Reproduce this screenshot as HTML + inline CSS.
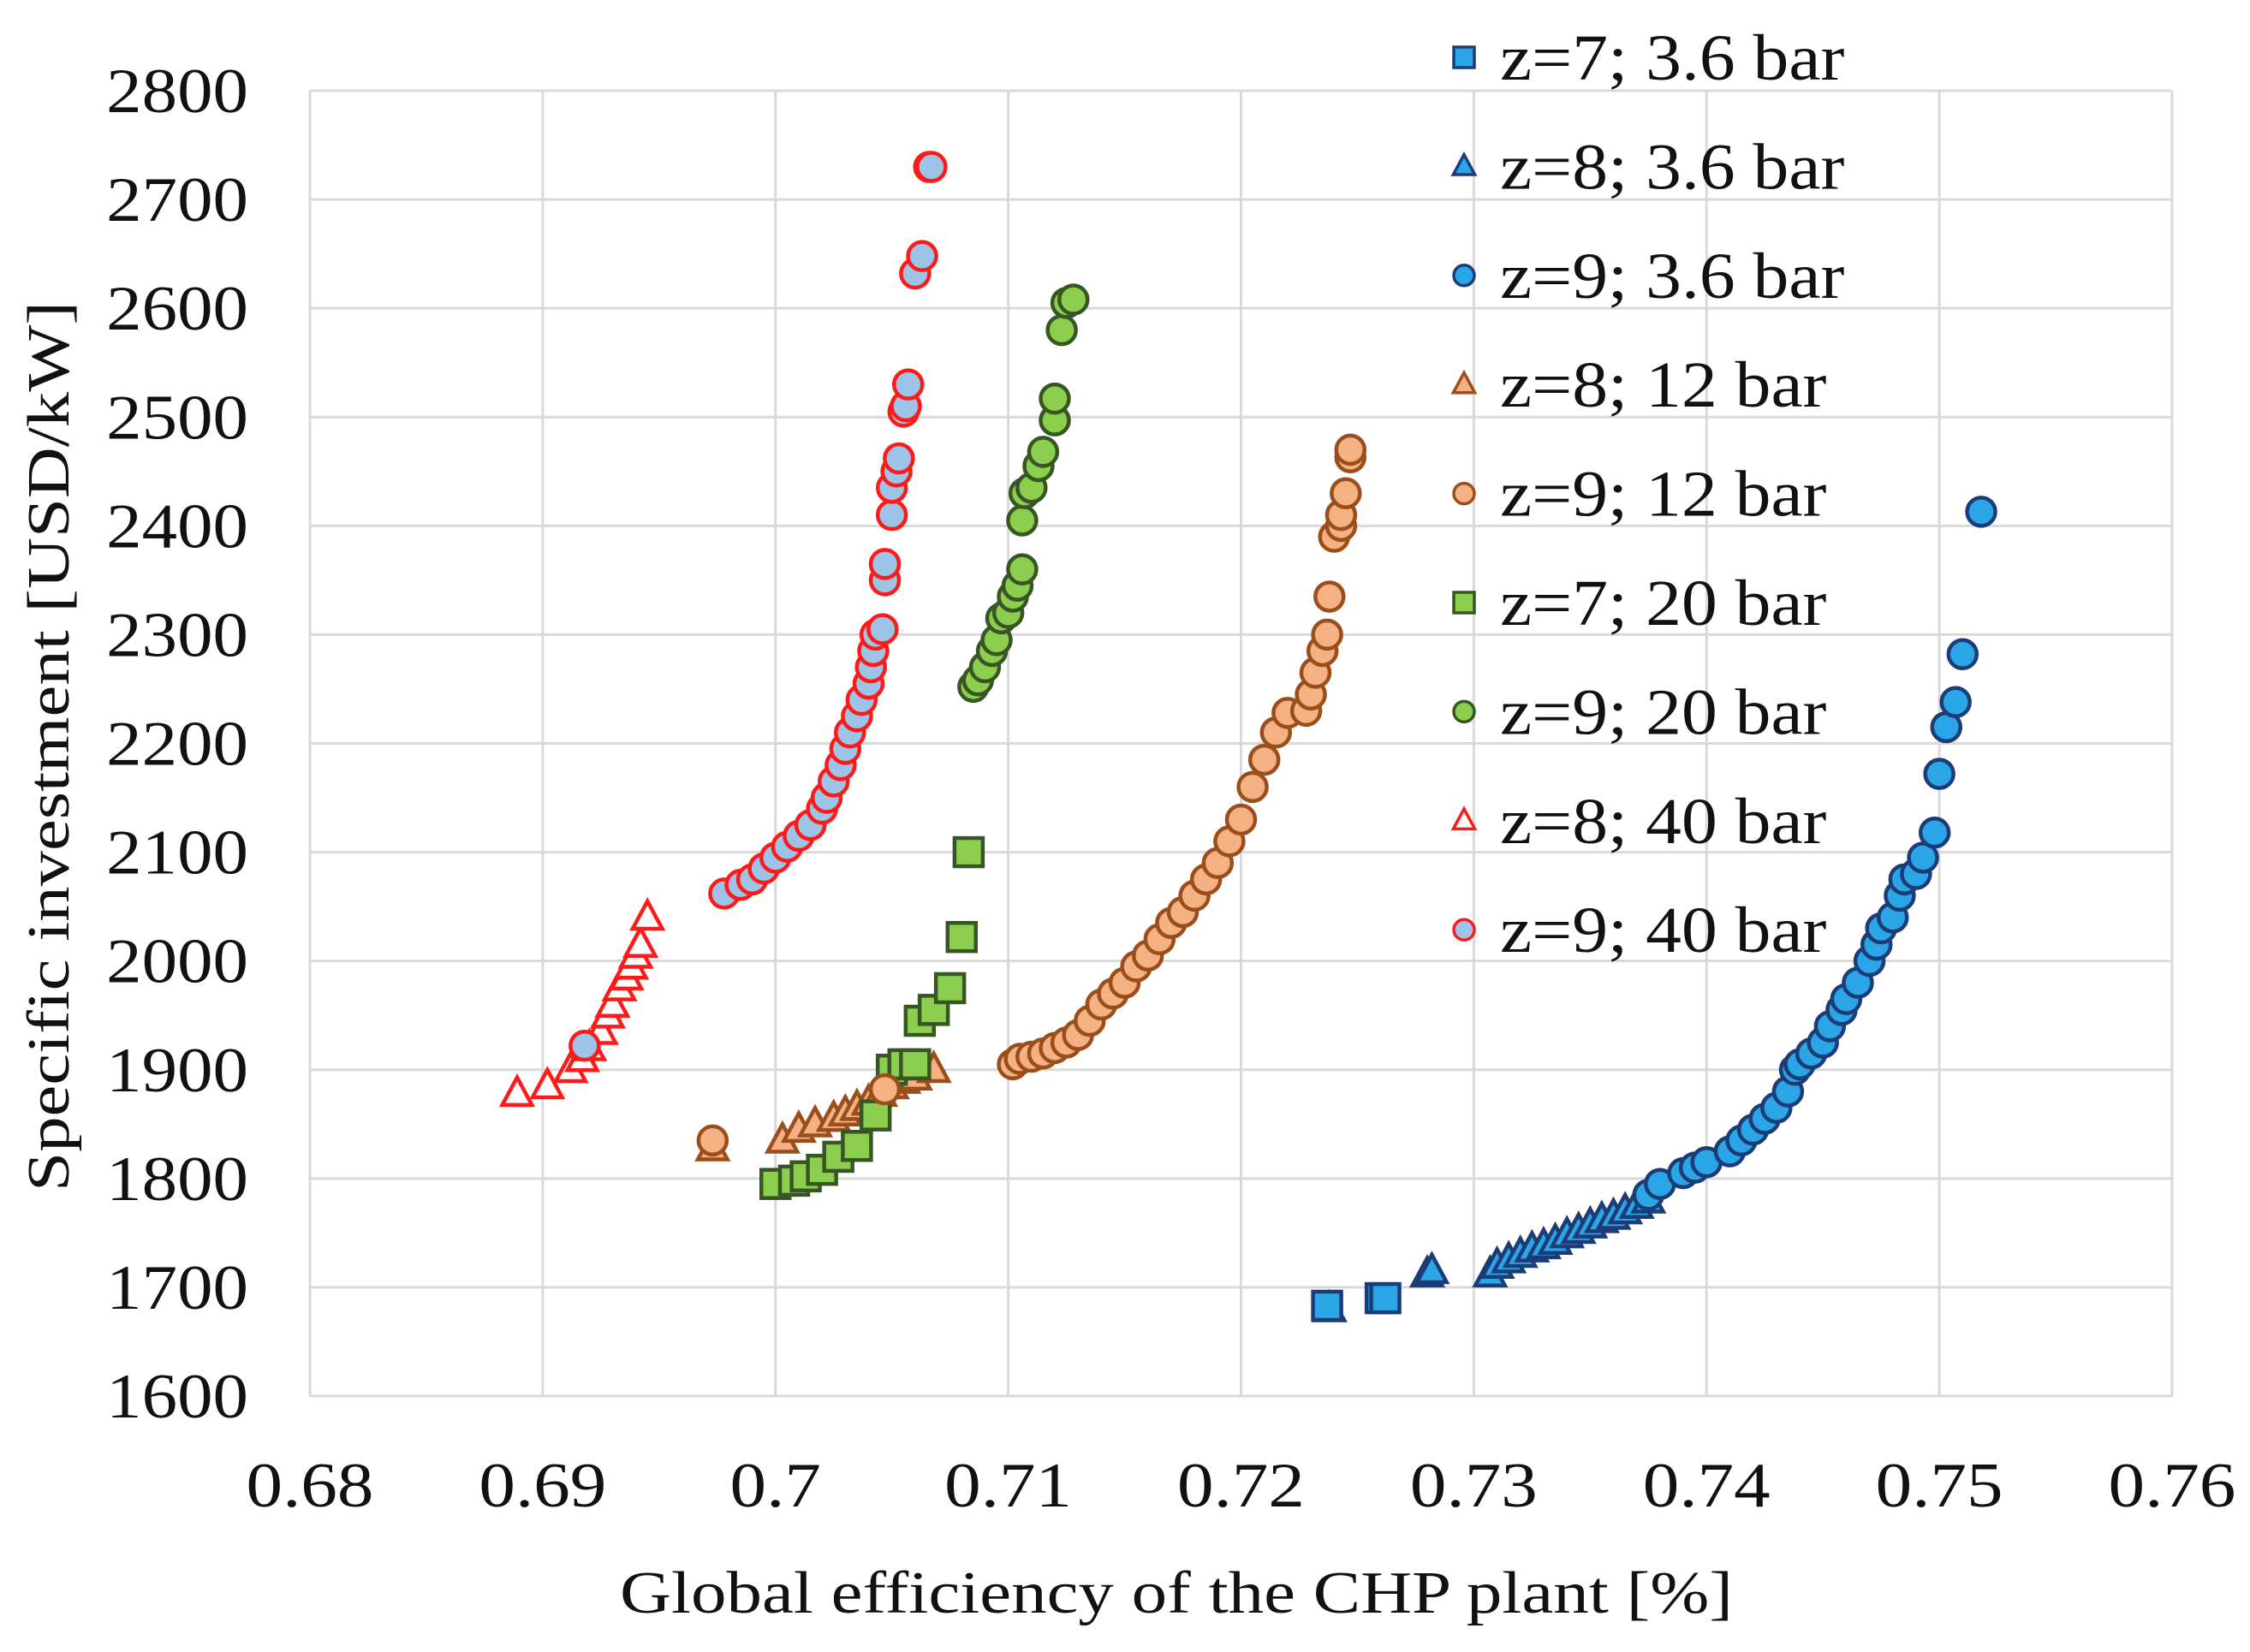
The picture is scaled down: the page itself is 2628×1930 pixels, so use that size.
<!DOCTYPE html>
<html><head><meta charset="utf-8"><style>
html,body{margin:0;padding:0;background:#fff}
svg{display:block}
text{font-family:"Liberation Serif",serif;fill:#111}
</style></head><body>
<svg id="chart" width="2628" height="1930" viewBox="0 0 2628 1930" xmlns="http://www.w3.org/2000/svg">
<g id="grid"></g>
<g id="xticks"></g>
<g id="yticks"></g>
<text id="xtitle" x="1374" y="1884" font-size="70" text-anchor="middle">Global efficiency  of the CHP plant [%]</text>
<text id="ytitle" transform="translate(80,872) rotate(-90)" font-size="70" text-anchor="middle">Specific  investment  [USD/kW]</text>
<g id="marks"></g>
<g id="legend"></g>
</svg>
<script>
const xTicks=[0.68,0.69,0.7,0.71,0.72,0.73,0.74,0.75,0.76];
const xTickLabels=["0.68","0.69","0.7","0.71","0.72","0.73","0.74","0.75","0.76"];
const yTicks=[1600,1700,1800,1900,2000,2100,2200,2300,2400,2500,2600,2700,2800];
const seriesNames=["z=7; 3.6 bar","z=8; 3.6 bar","z=9; 3.6 bar","z=8; 12 bar","z=9; 12 bar","z=7; 20 bar","z=9; 20 bar","z=8; 40 bar","z=9; 40 bar"];
const s1x=[0.7237,0.726,0.7262];
const s1y=[1683,1690,1690];
const s2x=[0.7238,0.728,0.7282,0.7307,0.731,0.7315,0.732,0.7325,0.733,0.7335,0.734,0.7345,0.735,0.7355,0.736,0.7365,0.737,0.7375];
const s2y=[1680,1712,1715,1712,1720,1725,1730,1735,1738,1742,1748,1752,1757,1762,1765,1770,1775,1780];
const s3x=[0.7375,0.738,0.739,0.7395,0.74,0.741,0.7415,0.742,0.7425,0.743,0.7435,0.7438,0.744,0.7445,0.745,0.7453,0.7458,0.746,0.7465,0.747,0.7473,0.7475,0.748,0.7483,0.7485,0.749,0.7493,0.7498,0.75,0.7503,0.7507,0.751,0.7518];
const s3y=[1785,1795,1805,1810,1815,1825,1835,1845,1855,1865,1880,1900,1905,1915,1925,1940,1955,1965,1980,2000,2015,2030,2040,2060,2075,2080,2095,2118,2172,2215,2238,2282,2413];
const s4x=[0.6973,0.7003,0.701,0.7017,0.7025,0.703,0.7035,0.704,0.7045,0.705,0.7055,0.706,0.7068];
const s4y=[1828,1835,1845,1850,1855,1860,1865,1870,1878,1885,1890,1893,1900];
const s5x=[0.6973,0.7047,0.7102,0.7105,0.711,0.7115,0.712,0.7125,0.713,0.7135,0.714,0.7145,0.715,0.7155,0.716,0.7165,0.717,0.7175,0.718,0.7185,0.719,0.7195,0.72,0.7205,0.721,0.7215,0.722,0.7228,0.723,0.7232,0.7235,0.7237,0.7238,0.724,0.7243,0.7243,0.7245,0.7247,0.7247];
const s5y=[1835,1882,1905,1910,1912,1915,1920,1925,1932,1945,1960,1970,1980,1995,2005,2020,2035,2045,2060,2075,2090,2110,2130,2160,2185,2210,2228,2230,2245,2265,2285,2300,2335,2390,2400,2410,2430,2463,2470];
const s6x=[0.7,0.7008,0.7013,0.702,0.7027,0.7035,0.7043,0.705,0.7055,0.706,0.7062,0.7068,0.7075,0.708,0.7083];
const s6y=[1795,1798,1802,1808,1820,1830,1858,1900,1905,1905,1945,1955,1975,2022,2100];
const s7x=[0.7085,0.7087,0.709,0.7093,0.7095,0.7097,0.71,0.7102,0.7104,0.7106,0.7106,0.7107,0.711,0.7113,0.7115,0.712,0.712,0.7123,0.7125,0.7128];
const s7y=[2252,2258,2270,2285,2295,2315,2320,2335,2345,2360,2405,2430,2435,2455,2468,2497,2517,2580,2605,2608];
const s8x=[0.6889,0.6902,0.6912,0.6917,0.692,0.6925,0.6928,0.693,0.6933,0.6936,0.6938,0.694,0.6942,0.6945];
const s8y=[1878,1885,1900,1910,1920,1935,1950,1960,1975,1985,1995,2005,2015,2040];
const s9x=[0.6918,0.6978,0.6985,0.699,0.6995,0.7,0.7005,0.701,0.7015,0.702,0.7022,0.7025,0.7028,0.703,0.7032,0.7035,0.7037,0.704,0.7041,0.7042,0.7043,0.7046,0.7047,0.7047,0.705,0.705,0.7052,0.7053,0.7055,0.7056,0.7057,0.706,0.7063,0.7066,0.7067];
const s9y=[1922,2062,2070,2075,2085,2095,2105,2115,2125,2140,2150,2165,2180,2195,2210,2225,2240,2255,2270,2285,2300,2305,2350,2365,2410,2435,2450,2462,2505,2510,2530,2632,2648,2730,2730];

const NS="http://www.w3.org/2000/svg";
const X0=362,X1=2537,Y0=1631,Y1=106;
function sx(v){return X0+(v-0.68)/(0.08)*(X1-X0);}
function sy(v){return Y0-(v-1600)/1200*(Y0-Y1);}
function mk(tag,attrs,parent){const e=document.createElementNS(NS,tag);for(const k in attrs)e.setAttribute(k,attrs[k]);parent.appendChild(e);return e;}
function stretch(t,f){const L=t.getComputedTextLength();t.setAttribute('textLength',(L*f).toFixed(1));t.setAttribute('lengthAdjust','spacingAndGlyphs');}
const grid=document.getElementById('grid'),xt=document.getElementById('xticks'),yt=document.getElementById('yticks'),marks=document.getElementById('marks'),leg=document.getElementById('legend');
xTicks.forEach((t,i)=>{
  const l=mk('line',{x1:sx(t),x2:sx(t),y1:Y1,y2:Y0,stroke:'#d9d9d9','stroke-width':3},grid);
  
  
  const tx=mk('text',{x:sx(t),y:1760,'font-size':74,'text-anchor':'middle'},xt);
  tx.textContent=xTickLabels[i];
  
  
  stretch(tx,1.15);
});
yTicks.forEach(t=>{
  const l=mk('line',{x1:X0,x2:X1,y1:sy(t),y2:sy(t),stroke:'#d9d9d9','stroke-width':3},grid);
  
  
  const tx=mk('text',{x:290,y:sy(t)+25,'font-size':74,'text-anchor':'end'},yt);
  tx.textContent=String(t);
  
  
  stretch(tx,1.12);
});
const xtitle=document.getElementById('xtitle');xtitle.setAttribute('textLength','1300');xtitle.setAttribute('lengthAdjust','spacingAndGlyphs');
const ytitle=document.getElementById('ytitle');ytitle.setAttribute('textLength','1040');ytitle.setAttribute('lengthAdjust','spacingAndGlyphs');
const styles=[
 {shape:'sq',fill:'#2aa5e6',stroke:'#1c3c78'},
 {shape:'tri',fill:'#2aa5e6',stroke:'#1c3c78'},
 {shape:'circ',fill:'#2aa5e6',stroke:'#1c3c78'},
 {shape:'tri',fill:'#f4b183',stroke:'#9c4e1a'},
 {shape:'circ',fill:'#f4b183',stroke:'#9c4e1a'},
 {shape:'sq',fill:'#8ccf4e',stroke:'#375623'},
 {shape:'circ',fill:'#8ccf4e',stroke:'#375623'},
 {shape:'tri',fill:'#ffffff',stroke:'#ff1a1a'},
 {shape:'circ',fill:'#9dc3e6',stroke:'#ff1a1a'}];
const xs=[s1x,s2x,s3x,s4x,s5x,s6x,s7x,s8x,s9x], ys=[s1y,s2y,s3y,s4y,s5y,s6y,s7y,s8y,s9y];
function marker(shape,cx,cy,r,st,sw,parent){
  if(shape==='circ')return mk('circle',{cx:cx,cy:cy,r:r,fill:st.fill,stroke:st.stroke,'stroke-width':sw},parent);
  if(shape==='sq')return mk('rect',{x:cx-r,y:cy-r,width:2*r,height:2*r,fill:st.fill,stroke:st.stroke,'stroke-width':sw},parent);
  return mk('polygon',{points:`${cx},${cy-r*1.15} ${cx+r*1.05},${cy+r*0.8} ${cx-r*1.05},${cy+r*0.8}`,fill:st.fill,stroke:st.stroke,'stroke-width':sw},parent);
}
[7,8,3,5,6,4,1,0,2].forEach(si=>{
  const st=styles[si];
  for(let i=0;i<xs[si].length;i++){
    const m=marker(st.shape,sx(xs[si][i]),sy(ys[si][i]),16.5,st,4.5,marks);
    
    
  }
});
seriesNames.forEach((n,i)=>{
  const y=67+i*127.4;
  const m=marker(styles[i].shape,1710,y,12,styles[i],3.5,leg);
  
  
  const t=mk('text',{x:1752,y:y+26,'font-size':76},leg);
  t.textContent=n;
  
  
  stretch(t,1.1);
});
</script>
</body></html>
